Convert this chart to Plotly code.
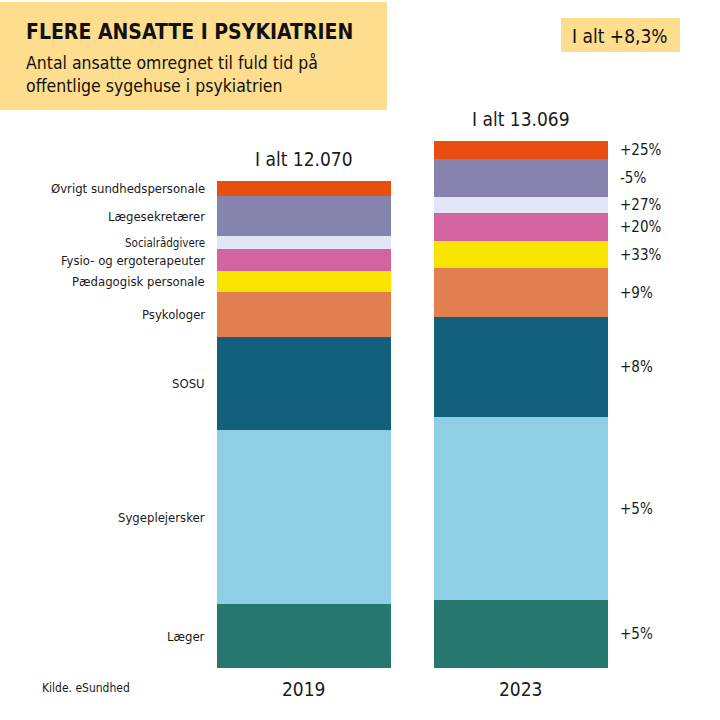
import plotly.graph_objects as go

categories = ["Læger", "Sygeplejersker", "SOSU", "Psykologer", "Pædagogisk personale",
              "Fysio- og ergoterapeuter", "Socialrådgivere", "Lægesekretærer",
              "Øvrigt sundhedspersonale"]
years = ["2019", "2023"]
values_2019 = [1586, 4312, 2305, 1115, 520, 545, 322, 991, 372]
values_2023 = [1685, 4535, 2480, 1215, 670, 694, 397, 942, 446]
changes = ["+5%", "+5%", "+8%", "+9%", "+33%", "+20%", "+27%", "-5%", "+25%"]
totals = ["I alt 12.070", "I alt 13.069"]
colors = ["#277771", "#8ECFE6", "#12607C", "#E17F50", "#F9E400",
          "#D464A0", "#E0E6F5", "#8684AE", "#E84E10"]

FONT = "Liberation Sans Narrow, DejaVu Sans Condensed, sans-serif"

fig = go.Figure()
for i, cat in enumerate(categories):
    fig.add_trace(go.Bar(
        x=years, y=[values_2019[i], values_2023[i]], name=cat,
        marker=dict(color=colors[i], line=dict(width=0)),
        width=0.806, hoverinfo="name+y"))

ann = []
base19 = 0
base23 = 0
for i, cat in enumerate(categories):
    c19 = base19 + values_2019[i] / 2
    c23 = base23 + values_2023[i] / 2
    base19 += values_2019[i]
    base23 += values_2023[i]
    ann.append(dict(x=-1.401 + 207 / 217, y=c19, xref="x", yref="y", text=cat,
                    xanchor="right", yanchor="middle", showarrow=False,
                    font=dict(family=FONT, size=11.5 if cat == "Socialrådgivere" else 13,
                              color="#1a1a1a")))
    ann.append(dict(x=-1.401 + 618 / 217, y=c23, xref="x", yref="y", text=changes[i],
                    xanchor="left", yanchor="middle", showarrow=False,
                    font=dict(family=FONT, size=15, color="#1a1a1a")))

sum19 = sum(values_2019)
sum23 = sum(values_2023)
ann.append(dict(x=0, y=sum19, xref="x", yref="y", text=totals[0], yshift=22,
                xanchor="center", yanchor="middle", showarrow=False,
                font=dict(family=FONT, size=19, color="#1a1a1a")))
ann.append(dict(x=1, y=sum23, xref="x", yref="y", text=totals[1], yshift=22,
                xanchor="center", yanchor="middle", showarrow=False,
                font=dict(family=FONT, size=19, color="#1a1a1a")))
for j, yr in enumerate(years):
    ann.append(dict(x=j, y=0, xref="x", yref="y", text=yr, yshift=-21,
                    xanchor="center", yanchor="middle", showarrow=False,
                    font=dict(family=FONT, size=19, color="#1a1a1a")))

ann.append(dict(x=40 / 720, y=1 - 688 / 720, xref="paper", yref="paper",
                text="Kilde. eSundhed", xanchor="left", yanchor="middle", showarrow=False,
                font=dict(family=FONT, size=12, color="#1a1a1a")))
ann.append(dict(x=24 / 720, y=1 - 32 / 720, xref="paper", yref="paper",
                text="<b>FLERE ANSATTE I PSYKIATRIEN</b>", xanchor="left", yanchor="middle",
                showarrow=False, font=dict(family=FONT, size=21, color="#111111")))
ann.append(dict(x=24 / 720, y=1 - 75 / 720, xref="paper", yref="paper",
                text="Antal ansatte omregnet til fuld tid på<br>offentlige sygehuse i psykiatrien",
                xanchor="left", yanchor="middle", align="left", showarrow=False,
                font=dict(family=FONT, size=17.5, color="#111111")))
ann.append(dict(x=620 / 720, y=1 - 36 / 720, xref="paper", yref="paper",
                text="I alt +8,3%", xanchor="center", yanchor="middle", showarrow=False,
                font=dict(family=FONT, size=19, color="#111111")))

shapes = [
    dict(type="rect", xref="paper", yref="paper", x0=0, x1=387 / 720,
         y0=1 - 110 / 720, y1=1 - 2 / 720, fillcolor="#FEDD8E", line=dict(width=0),
         layer="below"),
    dict(type="rect", xref="paper", yref="paper", x0=561 / 720, x1=680 / 720,
         y0=1 - 52 / 720, y1=1 - 18 / 720, fillcolor="#FEDD8E", line=dict(width=0),
         layer="below"),
]

fig.update_layout(
    barmode="stack", width=720, height=720,
    margin=dict(l=0, r=0, t=0, b=0),
    paper_bgcolor="white", plot_bgcolor="white",
    showlegend=False,
    xaxis=dict(range=[-1.401, -1.401 + 720 / 217], visible=False, type="category"),
    yaxis=dict(range=[-1289, 16564], visible=False),
    annotations=ann, shapes=shapes,
)

fig.write_html("out.html", config={"displayModeBar": False},
               post_script="document.body.style.margin='0';document.body.style.padding='0';document.body.style.overflow='hidden';")
